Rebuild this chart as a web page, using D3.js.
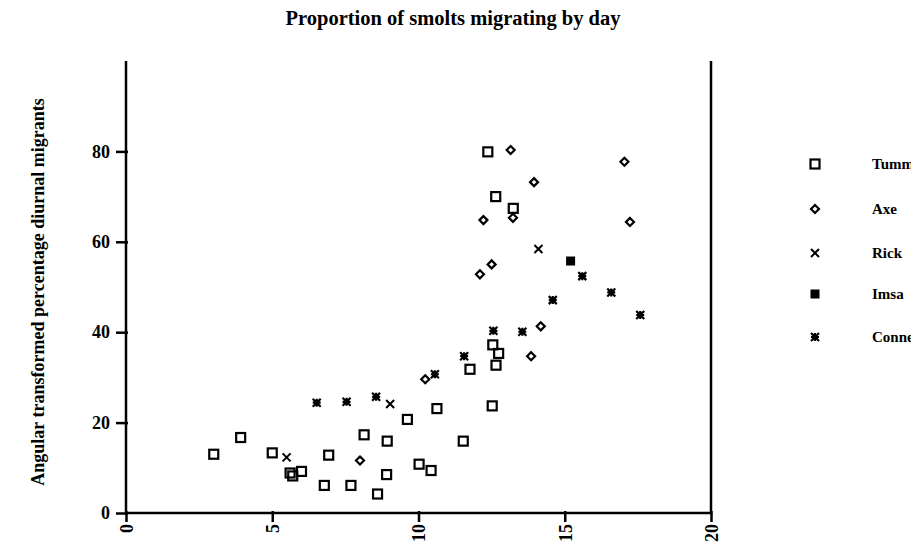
<!DOCTYPE html>
<html><head><meta charset="utf-8">
<script src="https://cdn.jsdelivr.net/npm/d3@7"></script>
<style>body{margin:0;background:#fff;overflow:hidden}svg{display:block}</style>
</head><body>
<svg id="c" width="911" height="545"></svg>
<script>
const title = "Proportion of smolts migrating by day";
const yLabel = "Angular transformed percentage diurnal migrants";
const xTicks = [0, 5, 10, 15, 20];
const yTicks = [0, 20, 40, 60, 80];
const seriesNames = ["Tummel", "Axe", "Rick", "Imsa", "Connecticut"];
const tumm = [[3.0,13.0],[3.92,16.7],[5.0,13.3],[5.61,8.85],[5.70,8.2],[6.0,9.2],[6.93,12.8],[6.78,6.1],[7.69,6.1],[8.14,17.3],[8.93,15.9],[8.6,4.2],[8.91,8.5],[9.62,20.7],[10.02,10.8],[10.43,9.4],[10.63,23.1],[11.76,31.8],[11.53,15.9],[12.54,37.2],[12.74,35.3],[12.65,32.7],[12.52,23.7],[12.37,79.9],[12.64,70.0],[13.24,67.4]];
const axe = [[8.0,11.6],[10.23,29.6],[12.1,52.8],[12.5,55.0],[12.22,64.8],[13.15,80.3],[13.95,73.2],[13.23,65.3],[17.04,77.7],[17.23,64.4],[14.18,41.3],[13.85,34.7]];
const rick = [[5.49,12.3],[9.03,24.1],[14.1,58.4]];
const imsa = [[15.2,55.75]];
const conn = [[6.52,24.4],[7.54,24.6],[8.55,25.7],[10.56,30.7],[11.56,34.7],[12.56,40.3],[13.55,40.1],[14.59,47.1],[15.6,52.4],[16.59,48.8],[17.58,43.8]];

const svg = d3.select("#c");
const L = 126, R = 711, T = 61, B = 513;
const x = d3.scaleLinear().domain([0, 20]).range([L, R]);
const y = d3.scaleLinear().domain([0, 100]).range([B, T]);
const serif = "'Liberation Serif','Times New Roman',serif";

svg.append("text").attr("x", 453).attr("y", 25).attr("text-anchor", "middle")
  .attr("font-family", serif).attr("font-size", 20.5).attr("font-weight", "bold").text(title);

svg.append("text").attr("transform", "translate(44,292) rotate(-90)").attr("text-anchor", "middle")
  .attr("font-family", serif).attr("font-size", 18).attr("font-weight", "bold").text(yLabel);

// axes
const yAxis = d3.axisLeft(y).tickValues(yTicks).tickSize(10).tickPadding(6);
const gy = svg.append("g").attr("transform", `translate(${L},0)`).call(yAxis);
const xAxis = d3.axisBottom(x).tickValues(xTicks).tickSize(9).tickPadding(4);
const gx = svg.append("g").attr("transform", `translate(0,${B})`).call(xAxis);
[gx, gy].forEach(g => {
  g.select(".domain").remove();
  g.selectAll(".tick line").attr("stroke", "#000").attr("stroke-width", 2.5);
  g.selectAll("text").attr("font-family", serif).attr("font-size", 18).attr("font-weight", "bold").attr("fill", "#000");
});
gx.selectAll(".tick line").attr("y1", -2);
gx.selectAll("text").attr("transform", "rotate(-90)").attr("text-anchor", "end")
  .attr("x", -11).attr("y", 0).attr("dy", "0.35em");
gy.selectAll(".tick line").attr("x1", 2);

svg.append("path").attr("d", `M${x(0)},${y(100)}V${y(0)}H${x(20)}V${y(100)}`)
  .attr("fill", "none").attr("stroke", "#000").attr("stroke-width", 2.5);

// marker functions
function square(g, s) { g.append("rect").attr("x", -s/2).attr("y", -s/2).attr("width", s).attr("height", s).attr("fill", "none").attr("stroke", "#000").attr("stroke-width", 2.2); }
function diamond(g, s) { g.append("path").attr("d", `M0,${-s/2}L${s/2},0L0,${s/2}L${-s/2},0Z`).attr("fill", "none").attr("stroke", "#000").attr("stroke-width", 2.2); }
function cross(g, s) { g.append("path").attr("d", `M${-s/2},${-s/2}L${s/2},${s/2}M${s/2},${-s/2}L${-s/2},${s/2}`).attr("stroke", "#000").attr("stroke-width", 2); }
function filled(g, s) { g.append("rect").attr("x", -s/2).attr("y", -s/2).attr("width", s).attr("height", s).attr("fill", "#000"); }
function star(g, s) { g.append("path").attr("d", `M${-s/2},${-s/2}L${s/2},${s/2}M${s/2},${-s/2}L${-s/2},${s/2}M0,${-s/2}V${s/2}M${-s/2},0H${s/2}`).attr("stroke", "#000").attr("stroke-width", 2.2); }

const series = [
  {data: tumm, draw: g => square(g, 9)},
  {data: axe, draw: g => diamond(g, 8)},
  {data: rick, draw: g => cross(g, 8)},
  {data: imsa, draw: g => filled(g, 9)},
  {data: conn, draw: g => star(g, 8)}
];
series.forEach(s => {
  svg.append("g").selectAll("g").data(s.data).join("g")
    .attr("transform", d => `translate(${x(d[0])},${y(d[1])})`)
    .each(function() { s.draw(d3.select(this)); });
});

// legend
const legY = [164, 209, 253, 294, 337];
seriesNames.forEach((n, i) => {
  const g = svg.append("g").attr("transform", `translate(815,${legY[i]})`);
  series[i].draw(g);
  svg.append("text").attr("x", 872).attr("y", legY[i] + 5).attr("font-family", serif)
    .attr("font-size", 15).attr("font-weight", "bold").text(n);
});
</script>
</body></html>
